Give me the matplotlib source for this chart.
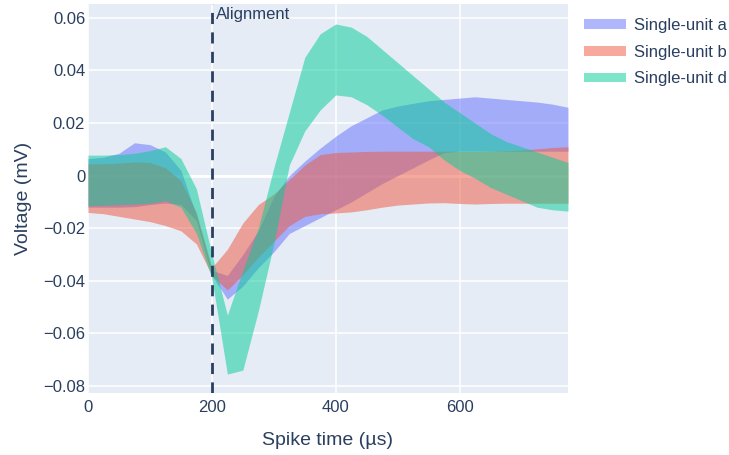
import numpy as np
import matplotlib
matplotlib.use("Agg")
import matplotlib.pyplot as plt
from matplotlib.patches import Patch
from matplotlib.ticker import FuncFormatter

# spike time axis, one sample every 25 us
time_us = np.arange(0, 800, 25)

# band edges (mV) for each unit
unit_a_upper = [0.0065, 0.007, 0.0085, 0.0125, 0.0118, 0.009, 0.002, -0.015, -0.036, -0.038,
                -0.030, -0.021, -0.008, 0.000, 0.0055, 0.0105, 0.015, 0.019, 0.022, 0.025,
                0.0265, 0.0275, 0.0285, 0.029, 0.0295, 0.030, 0.0295, 0.029, 0.0285, 0.028,
                0.0272, 0.026]
unit_a_lower = [-0.012, -0.012, -0.012, -0.0118, -0.011, -0.0104, -0.011, -0.017, -0.038, -0.047,
                -0.042, -0.035, -0.029, -0.022, -0.019, -0.016, -0.013, -0.010, -0.0065, -0.003,
                0.000, 0.003, 0.006, 0.0088, 0.0093, 0.0093, 0.0093, 0.0093, 0.0093, 0.0093,
                0.0093, 0.0093]

unit_b_upper = [0.0045, 0.0045, 0.0048, 0.0052, 0.005, 0.003, -0.002, -0.014, -0.035, -0.028,
                -0.018, -0.011, -0.007, -0.0015, 0.004, 0.008, 0.0088, 0.009, 0.0092, 0.0093,
                0.0093, 0.0093, 0.0093, 0.0093, 0.0092, 0.0092, 0.0093, 0.0095, 0.0097, 0.0102,
                0.0107, 0.011]
unit_b_lower = [-0.014, -0.0145, -0.0155, -0.0165, -0.0175, -0.019, -0.021, -0.026, -0.038, -0.0435,
                -0.0377, -0.031, -0.025, -0.019, -0.0155, -0.0145, -0.0142, -0.0138, -0.013, -0.012,
                -0.0112, -0.0108, -0.0104, -0.0103, -0.0106, -0.0108, -0.0106, -0.0105, -0.0105, -0.0105,
                -0.0105, -0.0105]

unit_d_upper = [0.0078, 0.0078, 0.008, 0.0085, 0.0095, 0.011, 0.0065, -0.005, -0.030, -0.053,
                -0.036, -0.02, 0.003, 0.024, 0.045, 0.054, 0.0577, 0.0565, 0.053, 0.048,
                0.043, 0.038, 0.033, 0.028, 0.024, 0.020, 0.016, 0.013, 0.011, 0.009,
                0.007, 0.005]
unit_d_lower = [-0.0115, -0.0113, -0.011, -0.0108, -0.0105, -0.0095, -0.012, -0.022, -0.039, -0.0755,
                -0.074, -0.0515, -0.026, 0.004, 0.017, 0.025, 0.0307, 0.030, 0.027, 0.023,
                0.0185, 0.014, 0.011, 0.006, 0.002, -0.001, -0.0045, -0.007, -0.0095, -0.012,
                -0.013, -0.0135]

unit_names = ["Single-unit a", "Single-unit b", "Single-unit d"]
unit_colors = ["#636efa", "#EF553B", "#00cc96"]
alignment_us = 200

text_color = "#2a3f5f"
plt.rcParams["font.family"] = ["Liberation Sans", "DejaVu Sans"]

fig = plt.figure(figsize=(7.29, 4.55), dpi=100)
ax = fig.add_axes([88 / 729, 1 - 393 / 455, (568 - 88) / 729, (393 - 4) / 455])
ax.set_facecolor("#E5ECF6")

bands = [(unit_a_lower, unit_a_upper), (unit_b_lower, unit_b_upper), (unit_d_lower, unit_d_upper)]
for (lo, hi), col in zip(bands, unit_colors):
    ax.fill_between(time_us, lo, hi, color=col, alpha=0.5, linewidth=0, zorder=2)

ax.set_xlim(0, 775)
ax.set_ylim(-0.0827, 0.0653)
ax.set_xticks([0, 200, 400, 600])
ax.set_yticks([-0.08, -0.06, -0.04, -0.02, 0, 0.02, 0.04, 0.06])

def fmt_y(v, pos):
    if abs(v) < 1e-9:
        return "0"
    return ("%.2f" % v).replace("-", "\u2212")

ax.yaxis.set_major_formatter(FuncFormatter(fmt_y))
ax.grid(True, color="white", linewidth=1.1, zorder=1)
ax.set_axisbelow(True)
ax.axhline(0, color="white", linewidth=2, zorder=1.5)
for s in ax.spines.values():
    s.set_visible(False)
ax.tick_params(length=0, labelsize=12, labelcolor=text_color)
ax.tick_params(axis="y", pad=2)
ax.tick_params(axis="x", pad=5)

ax.axvline(alignment_us, color=text_color, linewidth=2, linestyle=(0, (4, 3)), zorder=3)
ax.annotate("Alignment", xy=(alignment_us, 1), xycoords=("data", "axes fraction"),
            xytext=(3, -2), textcoords="offset points", ha="left", va="top",
            fontsize=12, color=text_color, zorder=4)

ax.set_xlabel("Spike time (\u00b5s)", fontsize=14, color=text_color, labelpad=12)
ax.set_ylabel("Voltage (mV)", fontsize=14, color=text_color, labelpad=8)

handles = [Patch(facecolor=c, alpha=0.5, edgecolor="none") for c in unit_colors]
fig.legend(handles, unit_names, loc="upper left", bbox_to_anchor=(584 / 729, 1 - 18 / 455),
           frameon=False, fontsize=12, handlelength=2.5, handleheight=0.5,
           handletextpad=0.5, labelspacing=0.7, labelcolor=text_color, borderaxespad=0,
           borderpad=0)

fig.savefig("out.png", dpi=100)
